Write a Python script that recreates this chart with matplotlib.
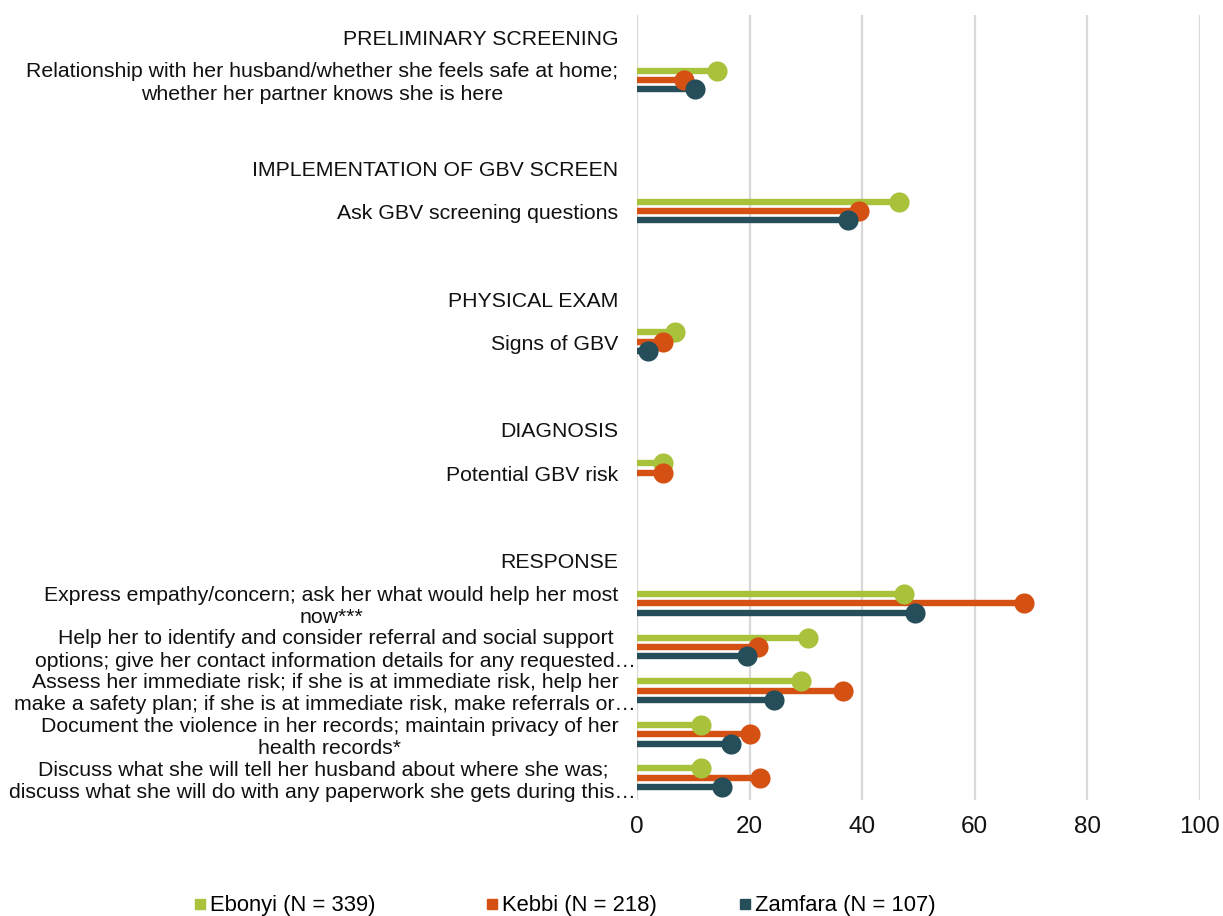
import numpy as np
import matplotlib.pyplot as plt
from matplotlib.transforms import offset_copy

plt.rcParams['font.family'] = ['Liberation Sans', 'DejaVu Sans']

sections = ["PRELIMINARY SCREENING", "IMPLEMENTATION OF GBV SCREEN",
            "PHYSICAL EXAM", "DIAGNOSIS", "RESPONSE"]
items = [
    ["Relationship with her husband/whether she feels safe at home;\nwhether her partner knows she is here"],
    ["Ask GBV screening questions"],
    ["Signs of GBV"],
    ["Potential GBV risk"],
    ["Express empathy/concern; ask her what would help her most\nnow***",
     "Help her to identify and consider referral and social support\noptions; give her contact information details for any requested\u2026",
     "Assess her immediate risk; if she is at immediate risk, help her\nmake a safety plan; if she is at immediate risk, make referrals or\u2026",
     "Document the violence in her records; maintain privacy of her\nhealth records*",
     "Discuss what she will tell her husband about where she was;\ndiscuss what she will do with any paperwork she gets during this\u2026"],
]

series = ["Ebonyi (N = 339)", "Kebbi (N = 218)", "Zamfara (N = 107)"]
colors = ["#A8C23C", "#D45113", "#264E5A"]

# percentages, in item order
ebonyi = [14.2, 46.6, 6.7, 4.6, 47.5, 30.3, 29.2, 11.4, 11.4]
kebbi = [8.3, 39.4, 4.6, 4.6, 68.8, 21.5, 36.6, 20.1, 21.9]
zamfara = [10.3, 37.4, 1.9, np.nan, 49.4, 19.6, 24.3, 16.7, 15.0]

# build row layout: header, items, blank spacer
row_labels = []
item_rows = []
row = 0
for i, sec in enumerate(sections):
    row_labels.append((row, sec))
    row += 1
    for it in items[i]:
        row_labels.append((row, it))
        item_rows.append(row)
        row += 1
    if i < len(sections) - 1:
        row += 1
n_rows = row

fig = plt.figure(figsize=(12.23, 9.16), dpi=100)
ax = fig.add_axes([0.521, 0.127, 0.46, 0.857])

offsets = [-0.215, 0.0, 0.215]
item_rows = np.array(item_rows)
for vals, col, off in zip([ebonyi, kebbi, zamfara], colors, offsets):
    vals = np.array(vals)
    ok = ~np.isnan(vals)
    y = item_rows[ok] + off
    ax.hlines(y, 0, vals[ok], color=col, linewidth=4.6, zorder=3)
    ax.plot(vals[ok], y, 'o', color=col, markersize=14.5, markeredgewidth=0, zorder=4)

ax.set_xlim(0, 100)
ax.set_ylim(n_rows - 0.5, -0.5)
ax.set_xticks(np.arange(0, 101, 20))
ax.tick_params(axis='x', labelsize=17.5, length=0, pad=12, colors='#111111')
ax.set_yticks([])
ax.grid(axis='x', color='#d9d9d9', linewidth=1.6, zorder=0)
for s in ax.spines.values():
    s.set_visible(False)

# category labels: block right-aligned, lines centred; clipped ones run up to the axis
for r, txt in row_labels:
    dx = -1 if txt.endswith('\u2026') else -19
    tr = offset_copy(ax.get_yaxis_transform(), fig=fig, x=dx, y=-3, units='dots')
    ax.text(0, r, txt, transform=tr, ha='right', va='center', multialignment='center',
            fontsize=15.3, color='#111111', linespacing=1.22)

# legend entries placed one by one
legend_x = [0.158, 0.397, 0.604]
for name, col, lx in zip(series, colors, legend_x):
    h = plt.Line2D([], [], marker='s', linestyle='none', color=col, markersize=7.5)
    fig.legend([h], [name], loc='center left', bbox_to_anchor=(lx, 0.011),
               frameon=False, fontsize=15.8, handletextpad=0.15, handlelength=0.6,
               borderpad=0, borderaxespad=0)

fig.savefig('out.png', dpi=100)
